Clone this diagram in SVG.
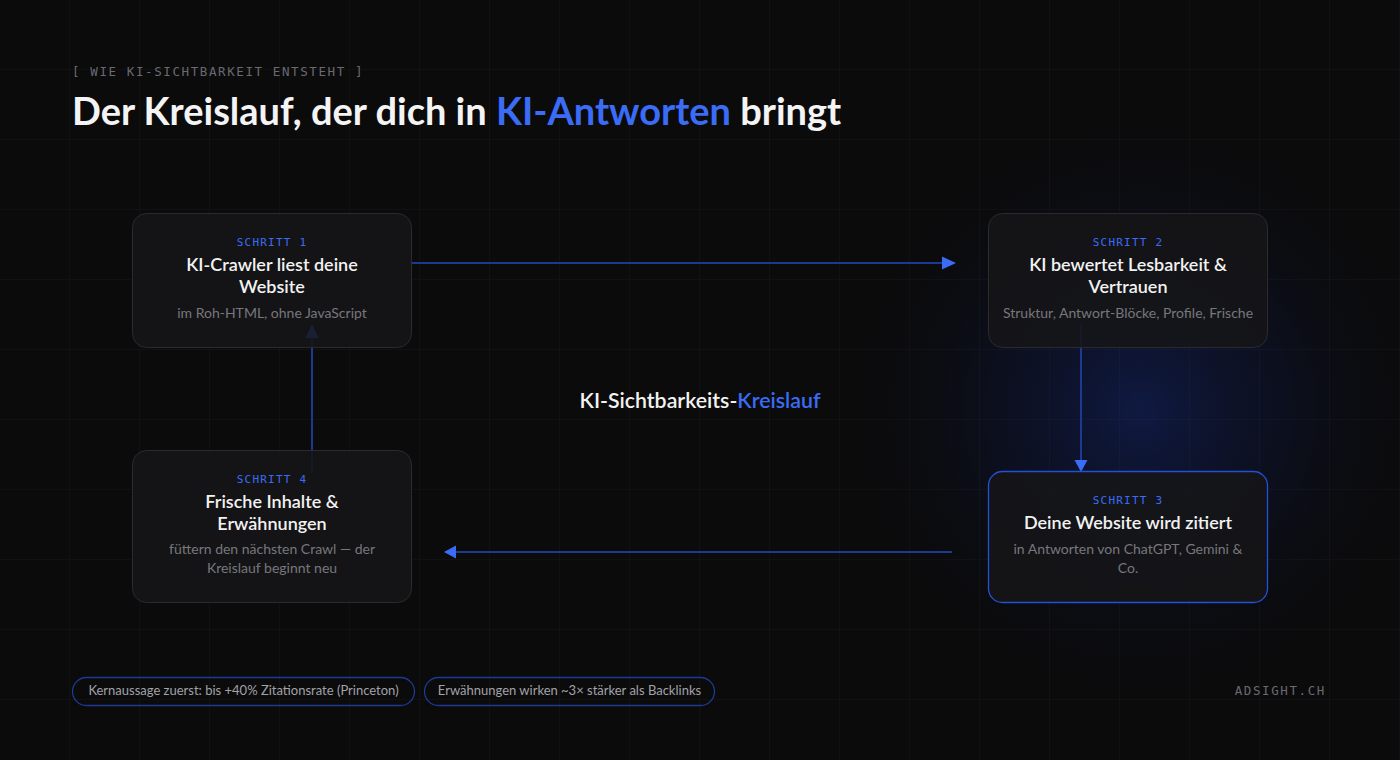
<svg xmlns="http://www.w3.org/2000/svg" width="1400" height="760" viewBox="0 0 1400 760">
<defs>
<style>
.bg{fill:#0b0b0c}
.node{fill:#161618;fill-opacity:0.88;stroke:#2b2b2f;stroke-width:1}
.node.hl{stroke:#2350d8;stroke-width:1.3}
.step{font-family:"DejaVu Sans Mono","Liberation Mono",monospace;font-size:11px;letter-spacing:1.2px;fill:#3b6cf6;text-anchor:middle}
.ttl{font-family:Lato,"Noto Sans",sans-serif;font-size:18px;font-weight:600;fill:#f2f2f2;text-anchor:middle}
.sub{font-family:Lato,"Noto Sans",sans-serif;font-size:14px;fill:#77777d;text-anchor:middle}
.conn{stroke:#1c3a94;stroke-width:2;fill:none}
.head{fill:#3b6cf6}
.pill{fill:none;stroke:#1c3a94;stroke-width:1.3}
.pilltxt{font-family:Lato,"Noto Sans",sans-serif;font-size:13px;fill:#a2a2a8;text-anchor:middle}
.mono{font-family:"DejaVu Sans Mono","Liberation Mono",monospace;fill:#6a6a70}
</style>
<pattern id="grid" width="70" height="70" patternUnits="userSpaceOnUse">
<path d="M70 0V70M0 70H70" stroke="#16161a" stroke-width="1" fill="none"/>
</pattern>
<radialGradient id="glow" cx="1140" cy="410" r="300" gradientUnits="userSpaceOnUse">
<stop offset="0" stop-color="#1a3cc0" stop-opacity="0.3"/>
<stop offset="0.5" stop-color="#12288a" stop-opacity="0.13"/>
<stop offset="1" stop-color="#0b0b0c" stop-opacity="0"/>
</radialGradient>
</defs>
<rect class="bg" width="1400" height="760"/>
<rect width="1400" height="760" fill="url(#grid)"/>
<rect width="1400" height="760" fill="url(#glow)"/>

<text class="mono" x="72" y="76" font-size="12.5" letter-spacing="1.6">[ WIE KI-SICHTBARKEIT ENTSTEHT ]</text>
<text x="72" y="125" font-family="Lato,'Noto Sans',sans-serif" font-size="38" font-weight="700" fill="#f4f4f4">Der Kreislauf, der dich in <tspan fill="#3b6cf6">KI-Antworten</tspan> bringt</text>

<g id="connectors">
<line class="conn" x1="410" y1="263" x2="944" y2="263"/>
<path class="head" d="M956 263L942 256.5V269.5Z"/>
<line class="conn" x1="1081" y1="323" x2="1081" y2="462"/>
<path class="head" d="M1081 472L1074.5 460H1087.5Z"/>
<line class="conn" x1="952" y1="552" x2="455" y2="552"/>
<path class="head" d="M444 552L456 545.5V558.5Z"/>
<line class="conn" x1="312" y1="473" x2="312" y2="336"/>
<path class="head" d="M312 324L305.5 338H318.5Z"/>
</g>

<g id="node1">
<rect class="node" x="132.5" y="213.5" width="279" height="134" rx="14"/>
<text class="step" x="272" y="246">SCHRITT 1</text>
<text class="ttl" x="272" y="271">KI-Crawler liest deine</text>
<text class="ttl" x="272" y="293">Website</text>
<text class="sub" x="272" y="318">im Roh-HTML, ohne JavaScript</text>
</g>
<g id="node2">
<rect class="node" x="988.5" y="213.5" width="279" height="134" rx="14"/>
<text class="step" x="1128" y="246">SCHRITT 2</text>
<text class="ttl" x="1128" y="271">KI bewertet Lesbarkeit &amp;</text>
<text class="ttl" x="1128" y="293">Vertrauen</text>
<text class="sub" x="1128" y="318">Struktur, Antwort-Blöcke, Profile, Frische</text>
</g>
<g id="node3">
<rect class="node hl" x="988.5" y="471.5" width="279" height="131" rx="14"/>
<text class="step" x="1128" y="504">SCHRITT 3</text>
<text class="ttl" x="1128" y="529">Deine Website wird zitiert</text>
<text class="sub" x="1128" y="554">in Antworten von ChatGPT, Gemini &amp;</text>
<text class="sub" x="1128" y="573">Co.</text>
</g>
<g id="node4">
<rect class="node" x="132.5" y="450.5" width="279" height="152" rx="14"/>
<text class="step" x="272" y="483">SCHRITT 4</text>
<text class="ttl" x="272" y="508">Frische Inhalte &amp;</text>
<text class="ttl" x="272" y="530">Erwähnungen</text>
<text class="sub" x="272" y="554">füttern den nächsten Crawl — der</text>
<text class="sub" x="272" y="573">Kreislauf beginnt neu</text>
</g>

<text x="700" y="408" text-anchor="middle" font-family="Lato,'Noto Sans',sans-serif" font-size="21.3" font-weight="600" fill="#f2f2f2">KI-Sichtbarkeits-<tspan fill="#3b6cf6">Kreislauf</tspan></text>

<g id="pill1">
<rect class="pill" x="72.5" y="677.5" width="342" height="28" rx="14"/>
<text class="pilltxt" x="243.5" y="695">Kernaussage zuerst: bis +40% Zitationsrate (Princeton)</text>
</g>
<g id="pill2">
<rect class="pill" x="424.5" y="677.5" width="290" height="28" rx="14"/>
<text class="pilltxt" x="569.5" y="695">Erwähnungen wirken ~3× stärker als Backlinks</text>
</g>
<text class="mono" x="1326" y="695" text-anchor="end" font-size="12.5" letter-spacing="1.6">ADSIGHT.CH</text>
</svg>
